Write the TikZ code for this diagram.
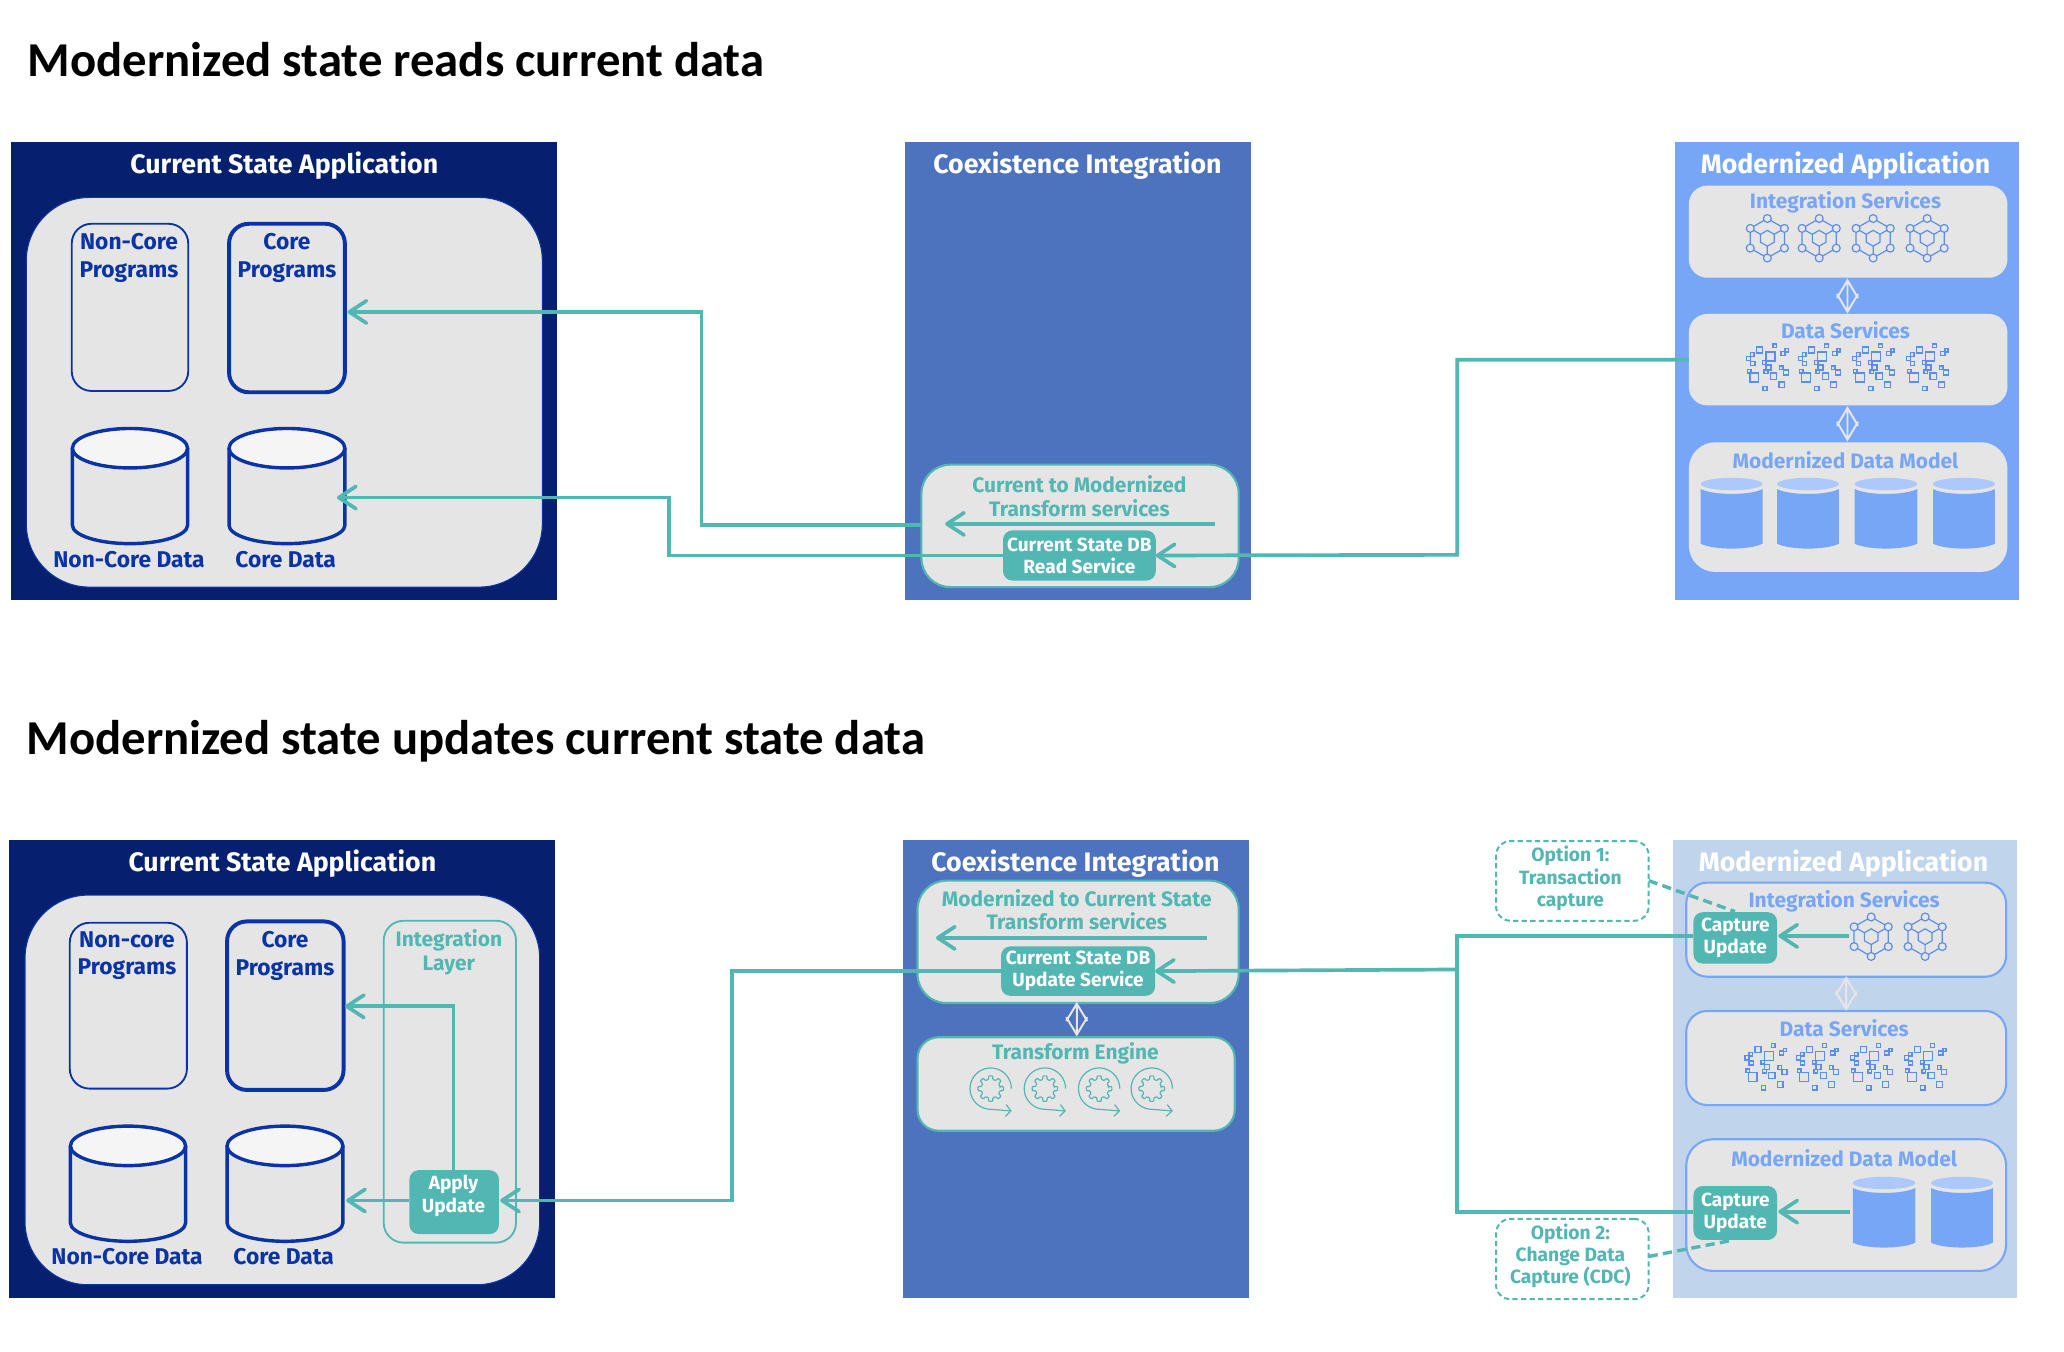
\documentclass[tikz,border=0pt]{standalone}
\usepackage{fontspec}
\setmainfont{Fira Sans}
\newfontfamily\ttlfont{Carlito}
\usetikzlibrary{arrows.meta}
\definecolor{navy}{HTML}{06206F}
\definecolor{midb}{HTML}{4D72BE}
\definecolor{skyb}{HTML}{78A6F7}
\definecolor{paleb}{HTML}{C0D5EC}
\definecolor{lightcyl}{HTML}{ADC9FB}
\definecolor{grayb}{HTML}{E5E5E5}
\definecolor{teal2}{HTML}{52B7B3}
\definecolor{cobalt}{HTML}{0A33A5}
\definecolor{iconb}{HTML}{5B8DEF}
\tikzset{
  x=1pt,y=-1pt,
  panel/.style={rectangle,draw=none},
  graybox/.style={rectangle,fill=grayb,draw=none,rounded corners=14pt},
  tealbox/.style={rectangle,fill=grayb,draw=teal2,line width=1.6pt,rounded corners=22pt},
  blubox/.style={rectangle,fill=grayb,draw=skyb,line width=1.6pt,rounded corners=16pt},
  solid teal/.style={rectangle,fill=teal2,rounded corners=7pt,text=white,align=center,font=\fontsize{14.5}{16.8}\selectfont\bfseries},
  solid text/.style={text=white,align=center,inner sep=0pt,font=\fontsize{14.5}{16.8}\selectfont\bfseries},
  prog/.style={rectangle,draw=cobalt,rounded corners=15pt},
  panelt/.style={text=white,font=\fontsize{20.3}{22}\selectfont\bfseries,anchor=center},
  lbl/.style={align=center,font=\fontsize{17.3}{21}\selectfont\bfseries,anchor=center,inner sep=0pt},
  tlbl/.style={align=center,text=teal2,font=\fontsize{15.9}{18}\selectfont\bfseries,anchor=center,inner sep=0pt},
  blbl/.style={align=center,text=skyb,font=\fontsize{15.9}{18}\selectfont\bfseries,anchor=center,inner sep=0pt},
  optlbl/.style={align=center,text=teal2,font=\fontsize{14.6}{17}\selectfont\bfseries,anchor=center,inner sep=0pt},
  doc title/.style={anchor=west,inner sep=0pt,font=\ttlfont\fontsize{37}{42}\selectfont\bfseries},
  link/.style={draw=teal2,line width=2.8pt},
  arrowed/.style={link,-{Straight Barb[length=13pt,width=17pt,line cap=round,round]}},
  dash link/.style={draw=teal2,line width=2.6pt,dash pattern=on 7pt off 4pt},
  optbox/.style={rectangle,draw=teal2,line width=1.5pt,rounded corners=11pt,dash pattern=on 4pt off 2.5pt},
}
\newcommand{\bx}[7][]{%
  \pgfmathsetmacro{\mycx}{(#3+#5)/2}\pgfmathsetmacro{\mycy}{(#4+#6)/2}%
  \pgfmathsetmacro{\myw}{#5-#3}\pgfmathsetmacro{\myh}{#6-#4}%
  \node[inner sep=0pt,outer sep=0pt,minimum width=\myw pt,minimum height=\myh pt,#1] (#2) at (\mycx,\mycy) {#7};}
\newcommand{\ocyl}[5]{% x0 x1 y0 y1 lw
  \pgfmathsetmacro{\mcx}{(#1+#2)/2}\pgfmathsetmacro{\mrx}{(#2-#1)/2}%
  \pgfmathsetmacro{\mym}{#4-14}\pgfmathsetmacro{\mya}{#4-6.3}%
  \pgfmathsetmacro{\mxa}{\mcx-.55*\mrx}\pgfmathsetmacro{\mxb}{\mcx+.55*\mrx}%
  \pgfmathsetmacro{\myt}{#3+15}%
  \draw[cobalt,line width=#5] (#1,\myt) -- (#1,\mym) .. controls (#1,\mya) and (\mxa,#4) .. (\mcx,#4) .. controls (\mxb,#4) and (#2,\mya) .. (#2,\mym) -- (#2,\myt);
  \draw[cobalt,line width=#5,fill=white!60!grayb] (\mcx,\myt) ellipse [x radius=\mrx,y radius=15];}
\newcommand{\fcyl}[4]{% x0 x1 ytop ybottom
  \pgfmathsetmacro{\mcx}{(#1+#2)/2}\pgfmathsetmacro{\mrx}{(#2-#1)/2}%
  \pgfmathsetmacro{\mxa}{#1+.2*(#2-#1)}\pgfmathsetmacro{\mxb}{#2-.2*(#2-#1)}%
  \pgfmathsetmacro{\mye}{#3+4.7}\pgfmathsetmacro{\myt}{#3+8.5}\pgfmathsetmacro{\mytc}{#3+13.5}%
  \pgfmathsetmacro{\myb}{#4-4}\pgfmathsetmacro{\mybc}{#4+1}%
  \fill[lightcyl] (\mcx,\mye) ellipse [x radius=\mrx,y radius=4.7];
  \fill[skyb] (#1,\myt) .. controls (\mxa,\mytc) and (\mxb,\mytc) .. (#2,\myt) -- (#2,\myb) .. controls (\mxb,\mybc) and (\mxa,\mybc) .. (#1,\myb) -- cycle;}
\newcommand{\hexicon}[2]{%
  \begin{scope}[shift={(#1,#2)},iconb,line width=.9pt]
    \draw (90:15) -- (30:15) -- (-30:15) -- (-90:15) -- (-150:15) -- (150:15) -- cycle;
    \draw (90:6) -- (30:6) -- (-30:6) -- (-90:6) -- (-150:6) -- (150:6) -- cycle;
    \draw (90:6) -- (90:15) (-30:6) -- (-30:15) (-150:6) -- (-150:15);
    \foreach \a in {90,30,-30,-90,-150,150} \draw[fill=grayb] (\a:15) circle[radius=3];
  \end{scope}}
\newcommand{\dataicon}[2]{%
  \begin{scope}[shift={(#1,#2)},iconb,line width=1.05pt]
    \foreach \mx/\my/\ms in {-5.8/-13.2/4.6,5.6/-16.2/2.8,2.3/-8.1/6.8,11.9/-10.4/3.2,14.7/-12.9/2.4,-11.4/-9.6/2.8,-14.2/-6.8/3.2,-11.1/-2.8/3.2,-2.3/-3.5/2.8,1/0.3/3.8,-1/3.3/2.8,10.6/0.5/2.8,14.2/4.1/3.8,4.6/6.8/4.6,-13.7/3/2.8,-9.9/7.8/6.8,-1.8/16/3.2,10.9/13.4/4.3}
      \draw (\mx,\my) ++({-\ms/2},{-\ms/2}) rectangle ++(\ms,\ms);
  \end{scope}}
\newcommand{\dbl}[3]{% x y0 y1
  \pgfmathsetmacro{\mym}{(#2+#3)/2}\pgfmathsetmacro{\myu}{\mym+1.5}\pgfmathsetmacro{\myd}{\mym-1.5}%
  \pgfmathsetmacro{\mxl}{#1-8}\pgfmathsetmacro{\mxr}{#1+8}%
  \draw[grayb,line width=1.5pt] (#1,#2) -- (#1,#3) (\mxl,\myu) -- (#1,#2) -- (\mxr,\myu) (\mxl,\myd) -- (#1,#3) -- (\mxr,\myd);}
\newcommand{\gearicon}[2]{%
  \begin{scope}[shift={(#1,#2)},teal2,line width=.9pt]
    \draw[rounded corners=.6pt] (-12:7.2) \foreach \a in {0,45,...,315}{ -- (\a-13:7.2) -- (\a-9:9.8) -- (\a+9:9.8) -- (\a+13:7.2)} -- cycle;
    \draw[-{Straight Barb[length=4pt,width=9pt]}] plot[domain=0:262,smooth,samples=30] ({15.7*cos(\x)},{-15.7*sin(\x)}) -- (16,17);
  \end{scope}}
\begin{document}
\begin{tikzpicture}
\useasboundingbox (0,0) rectangle (1568,1027);
\fill[white] (0,0) rectangle (1568,1027);

\node[doc title] (t1) at (21,45.5) {Modernized state reads current data};
\node[doc title] (t2) at (20,563) {Modernized state updates current state data};

% ===== top: current state
\bx[panel,fill=navy]{pa1}{8}{108}{423}{456}{}
\bx[rectangle,fill=grayb,draw=cobalt,line width=.8pt,rounded corners=48pt]{ia1}{20}{150}{412}{446}{}
\node[panelt] (ta1) at (216,126) {Current State Application};
\bx[prog,line width=1.4pt]{ncp1}{54.5}{170}{143}{297}{}
\bx[prog,line width=3pt]{cp1}{174}{170}{262}{298}{}
\node[lbl,text=cobalt] (lncp1) at (98,196) {Non-Core\\Programs};
\node[lbl,text=cobalt] (lcp1) at (218,196) {Core\\Programs};
\ocyl{55}{142.5}{325.5}{413}{2.6pt}
\ocyl{174}{262}{325.5}{413}{2.6pt}
\node[lbl,text=cobalt] (lncd1) at (98,425) {Non-Core Data};
\node[lbl,text=cobalt] (lcd1) at (217,425) {Core Data};

% ===== top: coexistence
\bx[panel,fill=midb]{pb1}{687.5}{108}{950}{456}{}
\node[panelt] (tb1) at (818.5,126) {Coexistence Integration};
\bx[tealbox]{ib1}{700}{353}{941}{446}{}
\node[tlbl] (lb1) at (820,377) {Current to Modernized\\Transform services};
\coordinate (tr1a) at (923,398);
\coordinate (tr1b) at (718,398);
\draw[arrowed] (tr1a) -- (tr1b);
\bx[solid teal]{rs}{762}{403}{878}{441}{Current State DB\\Read Service}

% ===== top: modernized
\bx[panel,fill=skyb]{pc1}{1272.5}{108}{1534}{456}{}
\node[panelt] (tc1) at (1402,126) {Modernized Application};
\bx[graybox]{is1}{1283}{141}{1525}{211}{}
\bx[graybox]{ds1}{1283}{238.5}{1525}{308}{}
\bx[graybox,rounded corners=20pt]{dm1}{1283}{336}{1525}{434.5}{}
\node[blbl] (lis1) at (1402,154) {Integration Services};
\node[blbl] (lds1) at (1402,250.5) {Data Services};
\node[blbl] (ldm1) at (1402,349.5) {Modernized Data Model};
\foreach \hx in {1342.6,1382,1423,1464} {\hexicon{\hx}{181}}
\foreach \hx in {1342.6,1382,1423,1464} {\dataicon{\hx}{279}}
\fcyl{1292}{1339}{363}{417}
\fcyl{1350}{1397}{363}{417}
\fcyl{1409}{1456.5}{363}{417}
\fcyl{1468.5}{1515.5}{363}{417}
\dbl{1403.5}{213}{236.8}
\dbl{1403.5}{310}{334}

% ===== top: connectors
\coordinate (cp1tip) at (264,237);
\coordinate (cd1tip) at (256,378);
\coordinate (ib1out) at (700,399);
\draw[arrowed] (ib1out) -| (533,237) -- (cp1tip);
\draw[arrowed] (rs.west) -| (508,378) -- (cd1tip);
\draw[arrowed] (ds1.west) -| (1107,421.5) -- (rs.east);

% ===== bottom: current state
\bx[panel,fill=navy]{pa2}{7}{638}{421.5}{986}{}
\bx[rectangle,fill=grayb,draw=cobalt,line width=.8pt,rounded corners=48pt]{ia2}{19}{680}{410}{976}{}
\node[panelt] (ta2) at (214.5,656) {Current State Application};
\bx[prog,line width=1.4pt]{ncp2}{53}{701}{142}{827}{}
\bx[prog,line width=3pt]{cp2}{172.5}{700}{261}{828}{}
\node[lbl,text=cobalt] (lncp2) at (96.5,726) {Non-core\\Programs};
\node[lbl,text=cobalt] (lcp2) at (216.5,726) {Core\\Programs};
\ocyl{53.5}{141}{855.5}{943}{2.6pt}
\ocyl{172.5}{260.5}{855.5}{943}{2.6pt}
\node[lbl,text=cobalt] (lncd2) at (96.5,955) {Non-Core Data};
\node[lbl,text=cobalt] (lcd2) at (215.5,955) {Core Data};
\bx[rectangle,draw=teal2,line width=1.4pt,rounded corners=15pt]{il}{291.5}{699.5}{392}{944}{}
\node[tlbl] (lil) at (341,723.5) {Integration\\Layer};
\bx[solid teal]{au}{311}{889}{379}{937.5}{}
\node[solid text] (lau) at (344.5,908.5) {Apply\\Update};

% ===== bottom: coexistence
\bx[panel,fill=midb]{pb2}{686}{638}{949}{986}{}
\node[panelt] (tb2) at (817,656) {Coexistence Integration};
\bx[tealbox]{ib2}{697}{669}{941}{762}{}
\node[tlbl] (lb2) at (818,691) {Modernized to Current State\\Transform services};
\coordinate (tr2a) at (917,712.5);
\coordinate (tr2b) at (711,712.5);
\draw[arrowed] (tr2a) -- (tr2b);
\bx[solid teal]{us}{760.5}{719}{877.5}{756.5}{Current State DB\\Update Service}
\dbl{818}{762.5}{786}
\bx[tealbox,rounded corners=16pt]{te}{697}{788}{938}{859}{}
\node[tlbl] (lte) at (817,800.5) {Transform Engine};
\foreach \gx in {752.6,793.8,835,875} {\gearicon{\gx}{827}}

% ===== bottom: modernized
\bx[panel,fill=paleb]{pc2}{1271}{638}{1532}{986}{}
\node[panelt] (tc2) at (1400.5,656) {Modernized Application};
\bx[blubox]{is2}{1281}{670.5}{1524}{742}{}
\bx[blubox]{ds2}{1281}{768}{1524}{839.5}{}
\bx[blubox,rounded corners=20pt]{dm2}{1281}{865.5}{1524}{965.5}{}
\node[blbl] (lis2) at (1401,684.5) {Integration Services};
\node[blbl] (lds2) at (1401,781) {Data Services};
\node[blbl] (ldm2) at (1401,880) {Modernized Data Model};
\dbl{1402.5}{743}{766.5}
\foreach \hx in {1421.5,1462.5} {\hexicon{\hx}{711.6}}
\foreach \hx in {1341.4,1380.5,1421.5,1462.5} {\dataicon{\hx}{810.4}}
\fcyl{1407.6}{1455}{894}{948}
\fcyl{1467}{1514}{894}{948}
\bx[solid teal]{cu1}{1286.5}{693}{1350}{732}{Capture\\Update}
\bx[solid teal]{cu2}{1286.5}{901}{1350}{942}{Capture\\Update}
\bx[optbox]{op1}{1136.5}{639}{1252.5}{699.5}{}
\bx[optbox]{op2}{1136.5}{926}{1252.5}{987}{}
\node[optlbl] (lop1) at (1193,667.5) {Option 1:\\Transaction\\capture};
\node[optlbl] (lop2) at (1193,954) {Option 2:\\Change Data\\Capture (CDC)};

% ===== bottom: connectors
\coordinate (cp2tip) at (262,764.5);
\coordinate (cd2tip) at (263,912);
\coordinate (auin) at (380,912);
\coordinate (autop) at (344.5,889);
\coordinate (ausout) at (311,912);
\coordinate (jn) at (1107,736.5);
\coordinate (hx2) at (1405,711);
\coordinate (cy2) at (1405.5,920.5);
\coordinate (cu1w) at (1286.5,711);
\coordinate (cu2w) at (1286.5,920.5);
\coordinate (cu1e) at (1351,711);
\coordinate (cu2e) at (1351,920.5);
\coordinate (op1e) at (1252.5,669);
\coordinate (op2e) at (1252.5,954.5);
\coordinate (cu1t) at (1318,692.5);
\coordinate (cu2b) at (1317,942);
\draw[arrowed] (autop) |- (cp2tip);
\draw[arrowed] (ausout) -- (cd2tip);
\draw[arrowed] (us.west) -| (556,912) -- (auin);
\draw[link] (cu1w) -| (jn) |- (cu2w);
\draw[arrowed] (jn) -- (us.east);
\draw[arrowed] (hx2) -- (cu1e);
\draw[arrowed] (cy2) -- (cu2e);
\draw[dash link] (op1e) -- (cu1t);
\draw[dash link] (op2e) -- (cu2b);
\end{tikzpicture}
\end{document}
